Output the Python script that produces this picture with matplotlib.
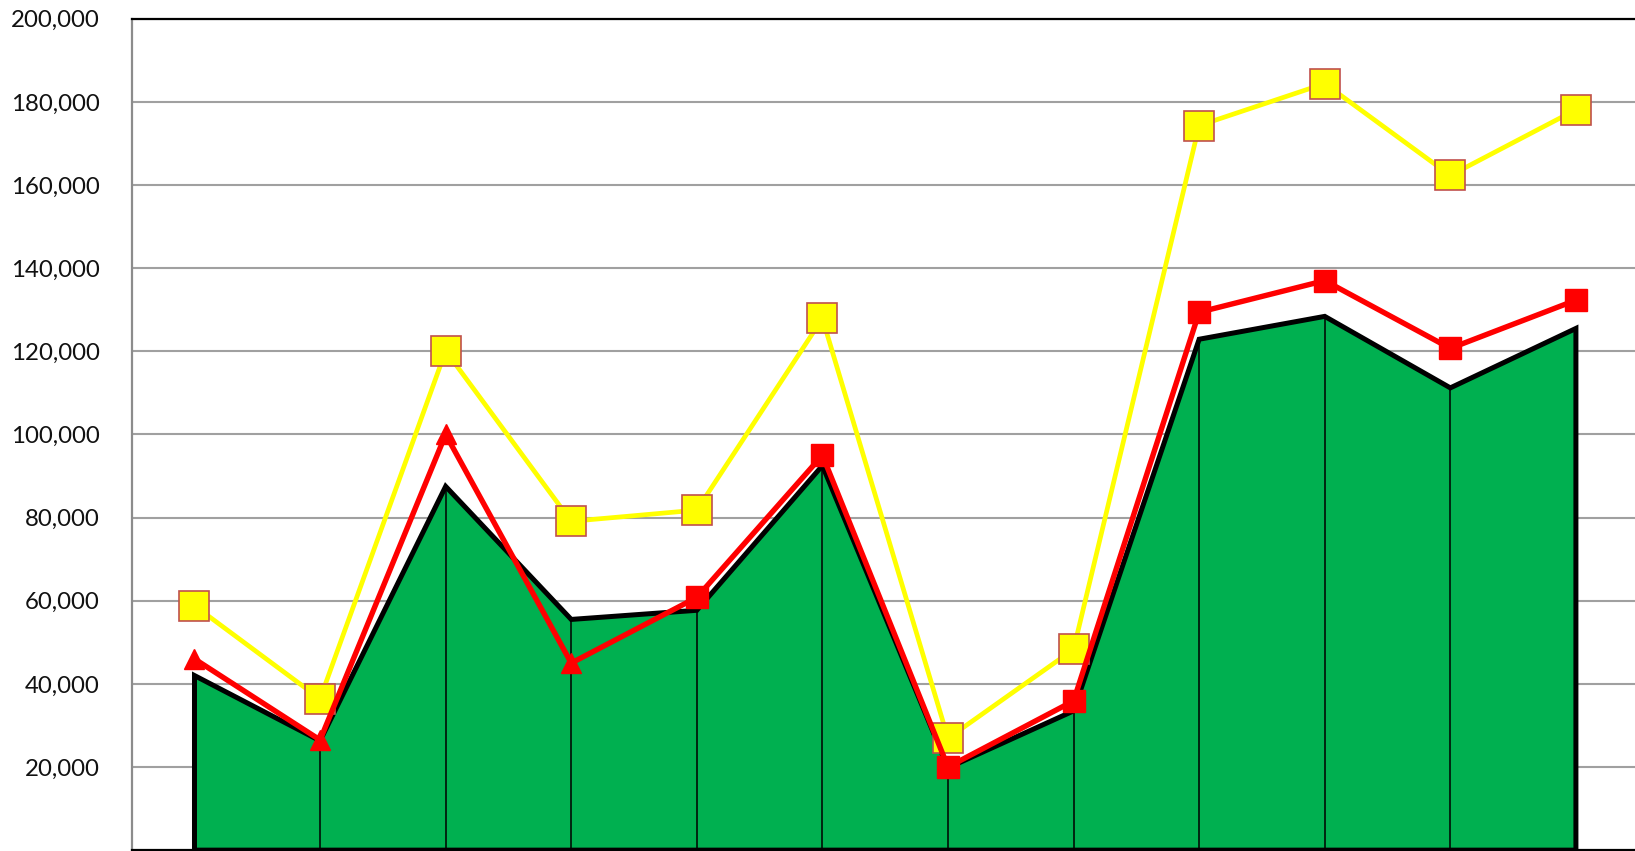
import numpy as np
import matplotlib.pyplot as plt
from matplotlib.ticker import FuncFormatter

# === DATA ===
categories = list(range(12))
area_values = [42000, 26300, 87500, 55500, 57700, 92500, 19800, 33500, 122900, 128400, 111200, 125500]
red_values = [46000, 26500, 100000, 45000, 60800, 95000, 20000, 35900, 129400, 137000, 120700, 132300]
yellow_values = [58800, 36400, 120100, 79100, 81800, 127900, 26900, 48300, 174300, 184400, 162300, 178100]
n_triangles = 4  # red series uses triangles on the first points, squares after
y_ticks = list(range(20000, 200001, 20000))

x = np.array(categories)

# === FIGURE ===
fig = plt.figure(figsize=(16.35, 8.51), dpi=100)
ax = fig.add_axes([131.7 / 1635, 0.001, 1507 / 1635, 0.977])

# area with black outline and thin drop lines
ax.fill(np.r_[x[0], x, x[-1]], np.r_[0, area_values, 0],
        facecolor="#00B050", edgecolor="black", linewidth=3.6, zorder=2)
ax.vlines(x[1:-1], 0, area_values[1:-1], color="black", linewidth=1.1, zorder=2.1)

# yellow series
ax.plot(x, yellow_values, color="#FFFF00", linewidth=3.4, zorder=3)
ax.plot(x, yellow_values, "s", markersize=22, markerfacecolor="#FFFF00",
        markeredgecolor="#C0504D", markeredgewidth=1.2, zorder=3.1)

# red series
ax.plot(x, red_values, color="#FF0000", linewidth=3.9, zorder=4)
ax.plot(x[:n_triangles], red_values[:n_triangles], "^", markersize=15,
        color="#FF0000", zorder=4.1)
ax.plot(x[n_triangles:], red_values[n_triangles:], "s", markersize=16,
        color="#FF0000", zorder=4.1)

# === AXES STYLE ===
ax.set_xlim(-0.5, 11.5)
ax.set_ylim(0, 200000)
ax.set_xticks([])
ax.set_yticks(y_ticks)
ax.yaxis.set_major_formatter(FuncFormatter(lambda v, p: f"{int(v):,}"))
ax.tick_params(axis="y", length=0, pad=23, labelsize=17.3)
for lbl in ax.get_yticklabels():
    lbl.set_family("Lato")
    lbl.set_color("#111111")

ax.set_axisbelow(True)
ax.grid(axis="y", color="#A0A0A0", linewidth=1.5)

ax.spines["right"].set_visible(False)
ax.spines["left"].set_color("#8C8C8C")
ax.spines["left"].set_linewidth(1.6)
ax.spines["top"].set_color("black")
ax.spines["top"].set_linewidth(1.6)
ax.spines["bottom"].set_color("black")
ax.spines["bottom"].set_linewidth(1.6)

fig.savefig("out.png", dpi=100)
